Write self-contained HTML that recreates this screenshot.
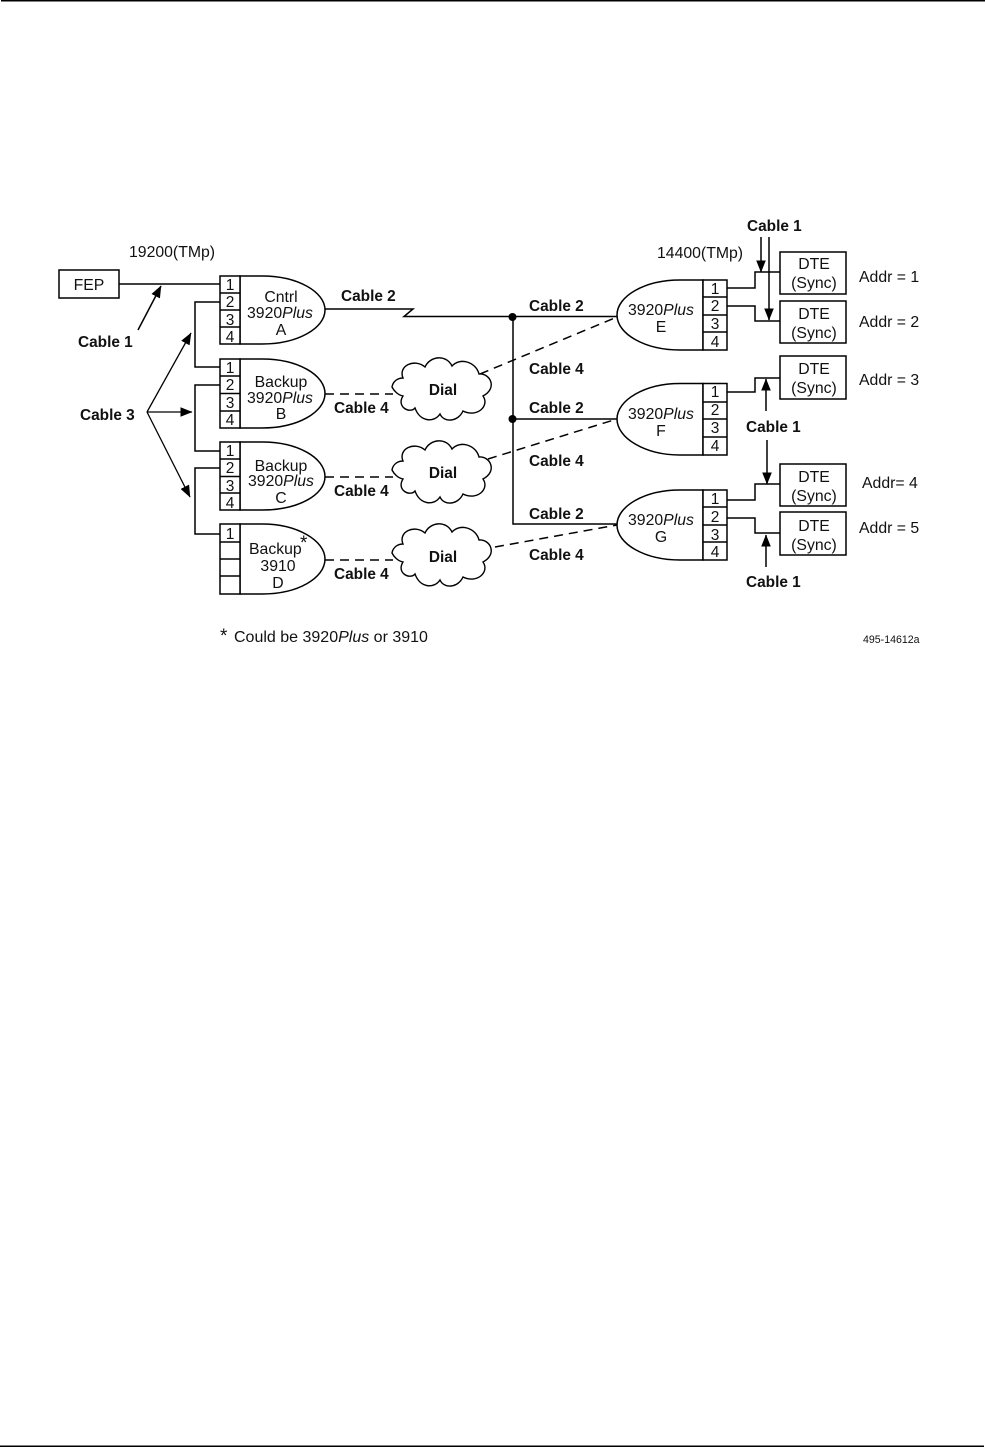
<!DOCTYPE html>
<html><head><meta charset="utf-8"><style>
html,body{margin:0;padding:0;background:#fff}
svg{display:block}
text{font-family:"Liberation Sans",Arial,sans-serif;font-size:15.8px;fill:#111}
.b{font-weight:bold;font-size:15.4px}
.m{text-anchor:middle}
.n{font-size:15.5px;text-anchor:middle}
.l{fill:none;stroke:#000;stroke-width:1.5}
.d{fill:none;stroke:#000;stroke-width:1.5;stroke-dasharray:9 6}
.s{fill:#fff;stroke:#000;stroke-width:1.5}
</style></head><body>
<svg width="985" height="1447" viewBox="0 0 985 1447" xmlns="http://www.w3.org/2000/svg">
<defs>
<marker id="a" viewBox="0 0 12 12" refX="11.5" refY="6" markerWidth="12" markerHeight="12" markerUnits="userSpaceOnUse" orient="auto"><path d="M0 1.2L12 6L0 10.8Z" fill="#000"/></marker>
<path id="cloud" d="M392 387 C393 381 398 378 403 378 C398 366 414 358 425 367 C430 356 446 354 452 366 C460 357 476 362 479 374 C490 373 498 388 483 396 C490 406 477 418 463 411 C458 422 444 423 440 414 C434 423 420 422 415 408 C410 414 396 407 403 396 C398 395 394 391 392 387Z" fill="#fff" stroke="#000" stroke-width="1.4"/>
</defs>
<rect x="1" y="0" width="984" height="1.5" fill="#000"/>
<rect x="0" y="1445.5" width="984" height="1.5" fill="#000"/>

<!-- connectors left -->
<path class="l" d="M119 284H220"/>
<path class="l" d="M220 302H195V367H220"/>
<path class="l" d="M220 385H195V451H220"/>
<path class="l" d="M220 468H195V534H220"/>
<path class="l" d="M325 309H413L404 316.500H617"/>
<path class="l" d="M513 317V524H617"/>
<path class="l" d="M513 419H617"/>
<circle cx="512.500" cy="317" r="4" fill="#000"/>
<circle cx="512.500" cy="419" r="4" fill="#000"/>

<!-- dashed -->
<path class="d" d="M325 394H393"/>
<path class="d" d="M325 477H393"/>
<path class="d" d="M325 560H393"/>
<path class="d" d="M480 374L617 317"/>
<path class="d" d="M488 459L617 419"/>
<path class="d" d="M495 547L617 525"/>

<!-- clouds -->
<use href="#cloud"/>
<use href="#cloud" y="83"/>
<use href="#cloud" y="166"/>
<text class="b m" x="443" y="395">Dial</text>
<text class="b m" x="443" y="478">Dial</text>
<text class="b m" x="443" y="562">Dial</text>

<!-- FEP -->
<rect class="s" x="59" y="270" width="60" height="28"/>
<text class="m" x="89" y="290">FEP</text>

<!-- left nodes -->
<path class="s" d="M240 276H262C298 276 325 292 325 310C325 328 298 344 262 344H240Z"/>
<path class="s" d="M220 276H240V344H220ZM220 293H240M220 310H240M220 327H240"/>
<text class="n" x="230" y="290">1</text><text class="n" x="230" y="307">2</text><text class="n" x="230" y="325">3</text><text class="n" x="230" y="342">4</text>
<text class="m" x="281" y="302">Cntrl</text>
<text x="247" y="318">3920<tspan font-style="italic">Plus</tspan></text>
<text class="m" x="281" y="335">A</text>

<path class="s" d="M240 359H262C298 359 325 375 325 393.500C325 412 298 428 262 428H240Z"/>
<path class="s" d="M220 359H240V428H220ZM220 376H240M220 393.500H240M220 411H240"/>
<text class="n" x="230" y="373">1</text><text class="n" x="230" y="390">2</text><text class="n" x="230" y="408">3</text><text class="n" x="230" y="425">4</text>
<text class="m" x="281" y="387">Backup</text>
<text x="247" y="403">3920<tspan font-style="italic">Plus</tspan></text>
<text class="m" x="281" y="419">B</text>

<path class="s" d="M240 442H262C298 442 325 458 325 476.500C325 495 298 510 262 510H240Z"/>
<path class="s" d="M220 442H240V510H220ZM220 459H240M220 476.500H240M220 493H240"/>
<text class="n" x="230" y="456">1</text><text class="n" x="230" y="473">2</text><text class="n" x="230" y="491">3</text><text class="n" x="230" y="508">4</text>
<text class="m" x="281" y="471">Backup</text>
<text x="248" y="486">3920<tspan font-style="italic">Plus</tspan></text>
<text class="m" x="281" y="503">C</text>

<path class="s" d="M240 524H262C298 524 325 541 325 559C325 578 298 594 262 594H240Z"/>
<path class="s" d="M220 524H240V594H220ZM220 542H240M220 559H240M220 576H240"/>
<text class="n" x="230" y="539">1</text>
<text x="249" y="554">Backup</text><text x="300" y="549" style="font-size:19px">*</text>
<text class="m" x="278" y="571">3910</text>
<text class="m" x="278" y="588">D</text>

<!-- right connectors -->
<path class="l" d="M727 288H755V272H780"/>
<path class="l" d="M727 306H755V321H780"/>
<path class="l" d="M727 392H755V378H780"/>
<path class="l" d="M727 500H755V484H780"/>
<path class="l" d="M727 518H755V533H780"/>

<!-- right nodes -->
<path class="s" d="M703 280H680C645 280 617 296 617 315C617 334 645 350 680 350H703Z"/>
<path class="s" d="M703 280H727V350H703ZM703 297H727M703 315H727M703 332H727"/>
<text class="n" x="715" y="294">1</text><text class="n" x="715" y="311">2</text><text class="n" x="715" y="329">3</text><text class="n" x="715" y="347">4</text>
<text x="628" y="315">3920<tspan font-style="italic">Plus</tspan></text>
<text class="m" x="661" y="332">E</text>

<path class="s" d="M703 383.500H680C645 383.500 617 400 617 419C617 438 645 455 680 455H703Z"/>
<path class="s" d="M703 383.500H727V455H703ZM703 402H727M703 419H727M703 437H727"/>
<text class="n" x="715" y="397">1</text><text class="n" x="715" y="415">2</text><text class="n" x="715" y="433">3</text><text class="n" x="715" y="451">4</text>
<text x="628" y="419">3920<tspan font-style="italic">Plus</tspan></text>
<text class="m" x="661" y="436">F</text>

<path class="s" d="M703 490H680C645 490 617 506 617 525C617 544 645 560 680 560H703Z"/>
<path class="s" d="M703 490H727V560H703ZM703 507H727M703 525H727M703 542H727"/>
<text class="n" x="715" y="504">1</text><text class="n" x="715" y="522">2</text><text class="n" x="715" y="540">3</text><text class="n" x="715" y="557">4</text>
<text x="628" y="525">3920<tspan font-style="italic">Plus</tspan></text>
<text class="m" x="661" y="542">G</text>

<!-- DTE -->
<rect class="s" x="780" y="252" width="66" height="42"/>
<rect class="s" x="780" y="301" width="66" height="42"/>
<rect class="s" x="780" y="356" width="66" height="43"/>
<rect class="s" x="780" y="464" width="66" height="42"/>
<rect class="s" x="780" y="512" width="66" height="43"/>
<text class="m" x="814" y="269">DTE</text><text class="m" x="814" y="288">(Sync)</text>
<text class="m" x="814" y="319">DTE</text><text class="m" x="814" y="338">(Sync)</text>
<text class="m" x="814" y="374">DTE</text><text class="m" x="814" y="393">(Sync)</text>
<text class="m" x="814" y="482">DTE</text><text class="m" x="814" y="501">(Sync)</text>
<text class="m" x="814" y="531">DTE</text><text class="m" x="814" y="550">(Sync)</text>

<!-- arrows -->
<path class="l" d="M138 330L161 286" marker-end="url(#a)"/>
<path class="l" d="M147 412L190 497" marker-end="url(#a)" style="stroke-width:1.3"/>
<path class="l" d="M147 412L191 333" marker-end="url(#a)" style="stroke-width:1.3"/>
<path class="l" d="M147 412H192" marker-end="url(#a)" style="stroke-width:1.3"/>
<path class="l" d="M761 237V272" marker-end="url(#a)"/>
<path class="l" d="M769 237V320" marker-end="url(#a)"/>
<path class="l" d="M766 411V379" marker-end="url(#a)"/>
<path class="l" d="M767 440V484" marker-end="url(#a)"/>
<path class="l" d="M766 567V535" marker-end="url(#a)"/>

<!-- labels -->
<text x="129" y="257">19200(TMp)</text>
<text x="657" y="258">14400(TMp)</text>
<text class="b" x="78" y="347">Cable 1</text>
<text class="b" x="80" y="420">Cable 3</text>
<text class="b" x="341" y="301">Cable 2</text>
<text class="b" x="334" y="413">Cable 4</text>
<text class="b" x="334" y="496">Cable 4</text>
<text class="b" x="334" y="579">Cable 4</text>
<text class="b" x="529" y="311">Cable 2</text>
<text class="b" x="529" y="374">Cable 4</text>
<text class="b" x="529" y="413">Cable 2</text>
<text class="b" x="529" y="466">Cable 4</text>
<text class="b" x="529" y="519">Cable 2</text>
<text class="b" x="529" y="560">Cable 4</text>
<text class="b" x="747" y="231">Cable 1</text>
<text class="b" x="746" y="432">Cable 1</text>
<text class="b" x="746" y="587">Cable 1</text>
<text x="859" y="282">Addr = 1</text>
<text x="859" y="327">Addr = 2</text>
<text x="859" y="385">Addr = 3</text>
<text x="862" y="488">Addr= 4</text>
<text x="859" y="533">Addr = 5</text>
<text x="220" y="642" style="font-size:19px">*</text>
<text x="234" y="642" style="font-size:16px">Could be 3920<tspan font-style="italic">Plus</tspan> or 3910</text>
<text x="863" y="643" style="font-size:10.6px">495-14612a</text>
</svg>
</body></html>
